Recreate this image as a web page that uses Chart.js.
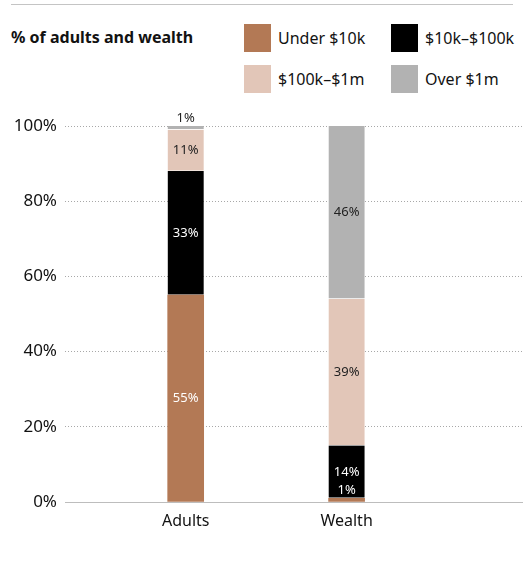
<!DOCTYPE html>
<html>
<head>
<meta charset="utf-8">
<script src="https://cdn.jsdelivr.net/npm/chart.js@4"></script>
<style>
  body { margin: 0; background: #fff; font-family: "Noto Sans", sans-serif; color: #121212; }
  #wrap { position: relative; width: 531px; height: 565px; }
  #rule { position: absolute; left: 11px; top: 4px; width: 502px; height: 1px; background: #c4c4c4; }
  #title { position: absolute; left: 11px; top: 26px; font-size: 16px; font-weight: bold; }
  .key { position: absolute; font-size: 16px; display: flex; align-items: center; }
  .key span.box { display: inline-block; width: 27px; height: 28px; margin-right: 7px; }
  #chartBox { position: absolute; left: 0; top: 100px; }
</style>
</head>
<body>
<div id="wrap">
  <div id="rule"></div>
  <div id="title">% of adults and wealth</div>
  <div id="legend"></div>
  <div id="chartBox"><canvas id="chart" width="531" height="445"></canvas></div>
</div>
<script>
var categories = ['Adults', 'Wealth'];
var seriesNames = ['Under $10k', '$10k\u2013$100k', '$100k\u2013$1m', 'Over $1m'];
var under10k = [55, 1];
var from10kTo100k = [33, 14];
var from100kTo1m = [11, 39];
var over1m = [1, 46];
var yTicks = [0, 20, 40, 60, 80, 100];

var colors = ['#b37955', '#000000', '#e2c6b8', '#b2b2b2'];
var textColors = ['#ffffff', '#ffffff', '#222222', '#222222'];
var allSeries = [under10k, from10kTo100k, from100kTo1m, over1m];

// legend, 2x2 grid
var legendPos = [[244, 24], [391, 24], [244, 65], [391, 65]];
var legendEl = document.getElementById('legend');
seriesNames.forEach(function (name, i) {
  var d = document.createElement('div');
  d.className = 'key';
  d.style.left = legendPos[i][0] + 'px';
  d.style.top = legendPos[i][1] + 'px';
  d.innerHTML = '<span class="box" style="background:' + colors[i] + '"></span>' + name;
  legendEl.appendChild(d);
});

var datasets = allSeries.map(function (vals, i) {
  return {
    label: seriesNames[i],
    data: vals.map(function (v, j) { return { x: j + 1, y: v }; }),
    backgroundColor: colors[i],
    borderColor: '#ffffff',
    borderWidth: i === 0 ? 0 : { bottom: 1, top: 0, left: 0, right: 0 },
    borderSkipped: false,
    barThickness: 36
  };
});

var labelPlugin = {
  id: 'segLabels',
  afterDatasetsDraw: function (chart) {
    var ctx = chart.ctx;
    ctx.save();
    ctx.font = '13px "Noto Sans"';
    ctx.textAlign = 'center';
    ctx.textBaseline = 'middle';
    chart.data.datasets.forEach(function (ds, i) {
      var meta = chart.getDatasetMeta(i);
      meta.data.forEach(function (bar, j) {
        var v = allSeries[i][j];
        var p = bar.getProps(['x', 'y', 'base'], true);
        var y, col;
        if (v >= 3) {
          y = (p.y + p.base) / 2;
          col = textColors[i];
        } else {
          y = p.y - 8;
          col = (i === allSeries.length - 1) ? '#222222' : textColors[i + 1];
        }
        ctx.fillStyle = col;
        ctx.fillText(v + '%', p.x, y);
      });
    });
    ctx.restore();
  }
};

new Chart(document.getElementById('chart'), {
  type: 'bar',
  data: { datasets: datasets },
  plugins: [labelPlugin],
  options: {
    responsive: false,
    animation: false,
    layout: { padding: { top: 26, right: 9, left: 0, bottom: 0 } },
    plugins: { legend: { display: false }, tooltip: { enabled: false } },
    scales: {
      x: {
        type: 'linear',
        stacked: true,
        offset: false,
        min: 0.25,
        max: 3.09,
        afterBuildTicks: function (scale) {
          scale.ticks = categories.map(function (c, i) { return { value: i + 1 }; });
        },
        afterFit: function (scale) { scale.height = 43; },
        grid: { display: false, drawTicks: false, offset: false },
        border: { display: true, color: '#bdbdbd', width: 1 },
        ticks: {
          padding: 10,
          color: '#121212',
          font: { family: 'Noto Sans', size: 16 },
          callback: function (v) { return categories[v - 1] || ''; }
        }
      },
      y: {
        stacked: true,
        min: 0,
        max: 100,
        afterBuildTicks: function (scale) {
          scale.ticks = yTicks.map(function (t) { return { value: t }; });
        },
        afterFit: function (scale) { scale.width = 65; },
        border: { display: false, dash: [1, 2] },
        grid: {
          color: '#a8a8a8',
          lineWidth: 1,
          drawTicks: false
        },
        ticks: {
          padding: 8,
          color: '#121212',
          font: { family: 'Noto Sans', size: 17 },
          callback: function (v) { return v + '%'; }
        }
      }
    }
  }
});
</script>
</body>
</html>
